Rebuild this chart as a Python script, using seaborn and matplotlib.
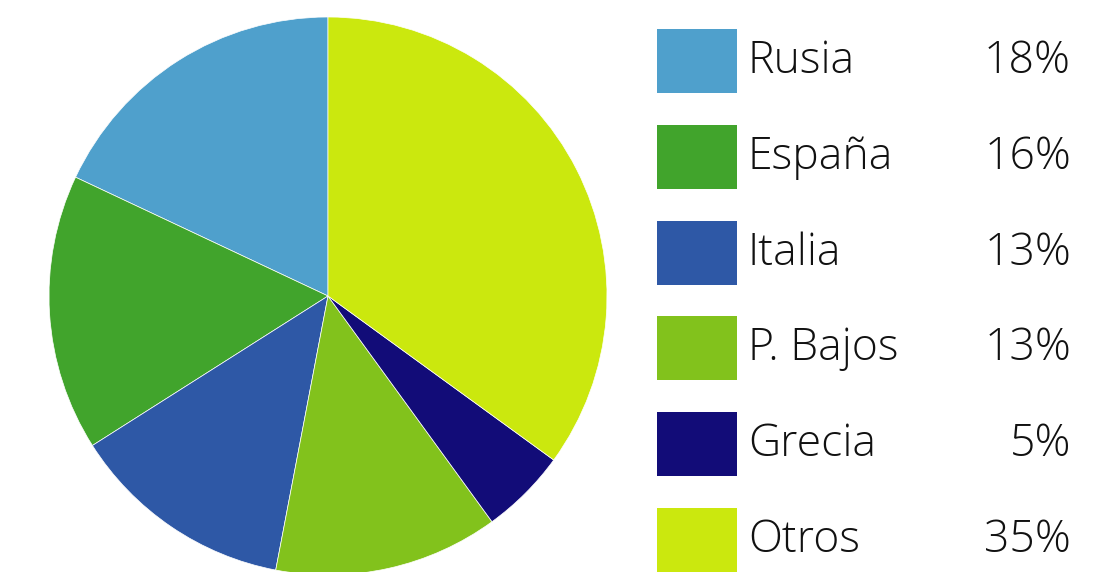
import seaborn as sns
import matplotlib.pyplot as plt
from matplotlib.patches import Rectangle
from matplotlib import font_manager

sns.set_style("white")

# Data
paises = ['Rusia', 'España', 'Italia', 'P. Bajos', 'Grecia', 'Otros']
valores = [18, 16, 13, 13, 5, 35]
colores = ['#4FA0CC', '#41A42C', '#2E58A6', '#82C21C', '#120C78', '#CBE80E']

names = {f.name for f in font_manager.fontManager.ttflist}
fam = 'Open Sans' if 'Open Sans' in names else 'DejaVu Sans'
plt.rcParams['font.family'] = [fam, 'DejaVu Sans']

W, H = 1118, 572
fig = plt.figure(figsize=(W / 100, H / 100), dpi=100)

# Pie: center (328, 296), radius 279 px
cx, cy, r = 328, 296, 279
ax = fig.add_axes([(cx - r) / W, (H - cy - r) / H, 2 * r / W, 2 * r / H])
ax.pie(valores, colors=colores, startangle=90, counterclock=True, radius=1,
       wedgeprops=dict(edgecolor='white', linewidth=0.5))
ax.set_xlim(-1, 1)
ax.set_ylim(-1, 1)
ax.set_aspect('equal')
ax.axis('off')

# Legend drawn in pixel coordinates
lg = fig.add_axes([0, 0, 1, 1], facecolor='none')
lg.set_xlim(0, W)
lg.set_ylim(H, 0)
lg.axis('off')
step = 95.8
for i, (p, v, c) in enumerate(zip(paises, valores, colores)):
    top = 29 + i * step
    lg.add_patch(Rectangle((657, top), 80, 64, color=c, lw=0))
    lg.text(748, top + 44, p, fontsize=32, fontweight='light', color='#111111',
            ha='left', va='baseline')
    lg.text(1071, top + 44, f'{v}%', fontsize=32, fontweight='light', color='#111111',
            ha='right', va='baseline')

fig.savefig('out.png', dpi=100)
